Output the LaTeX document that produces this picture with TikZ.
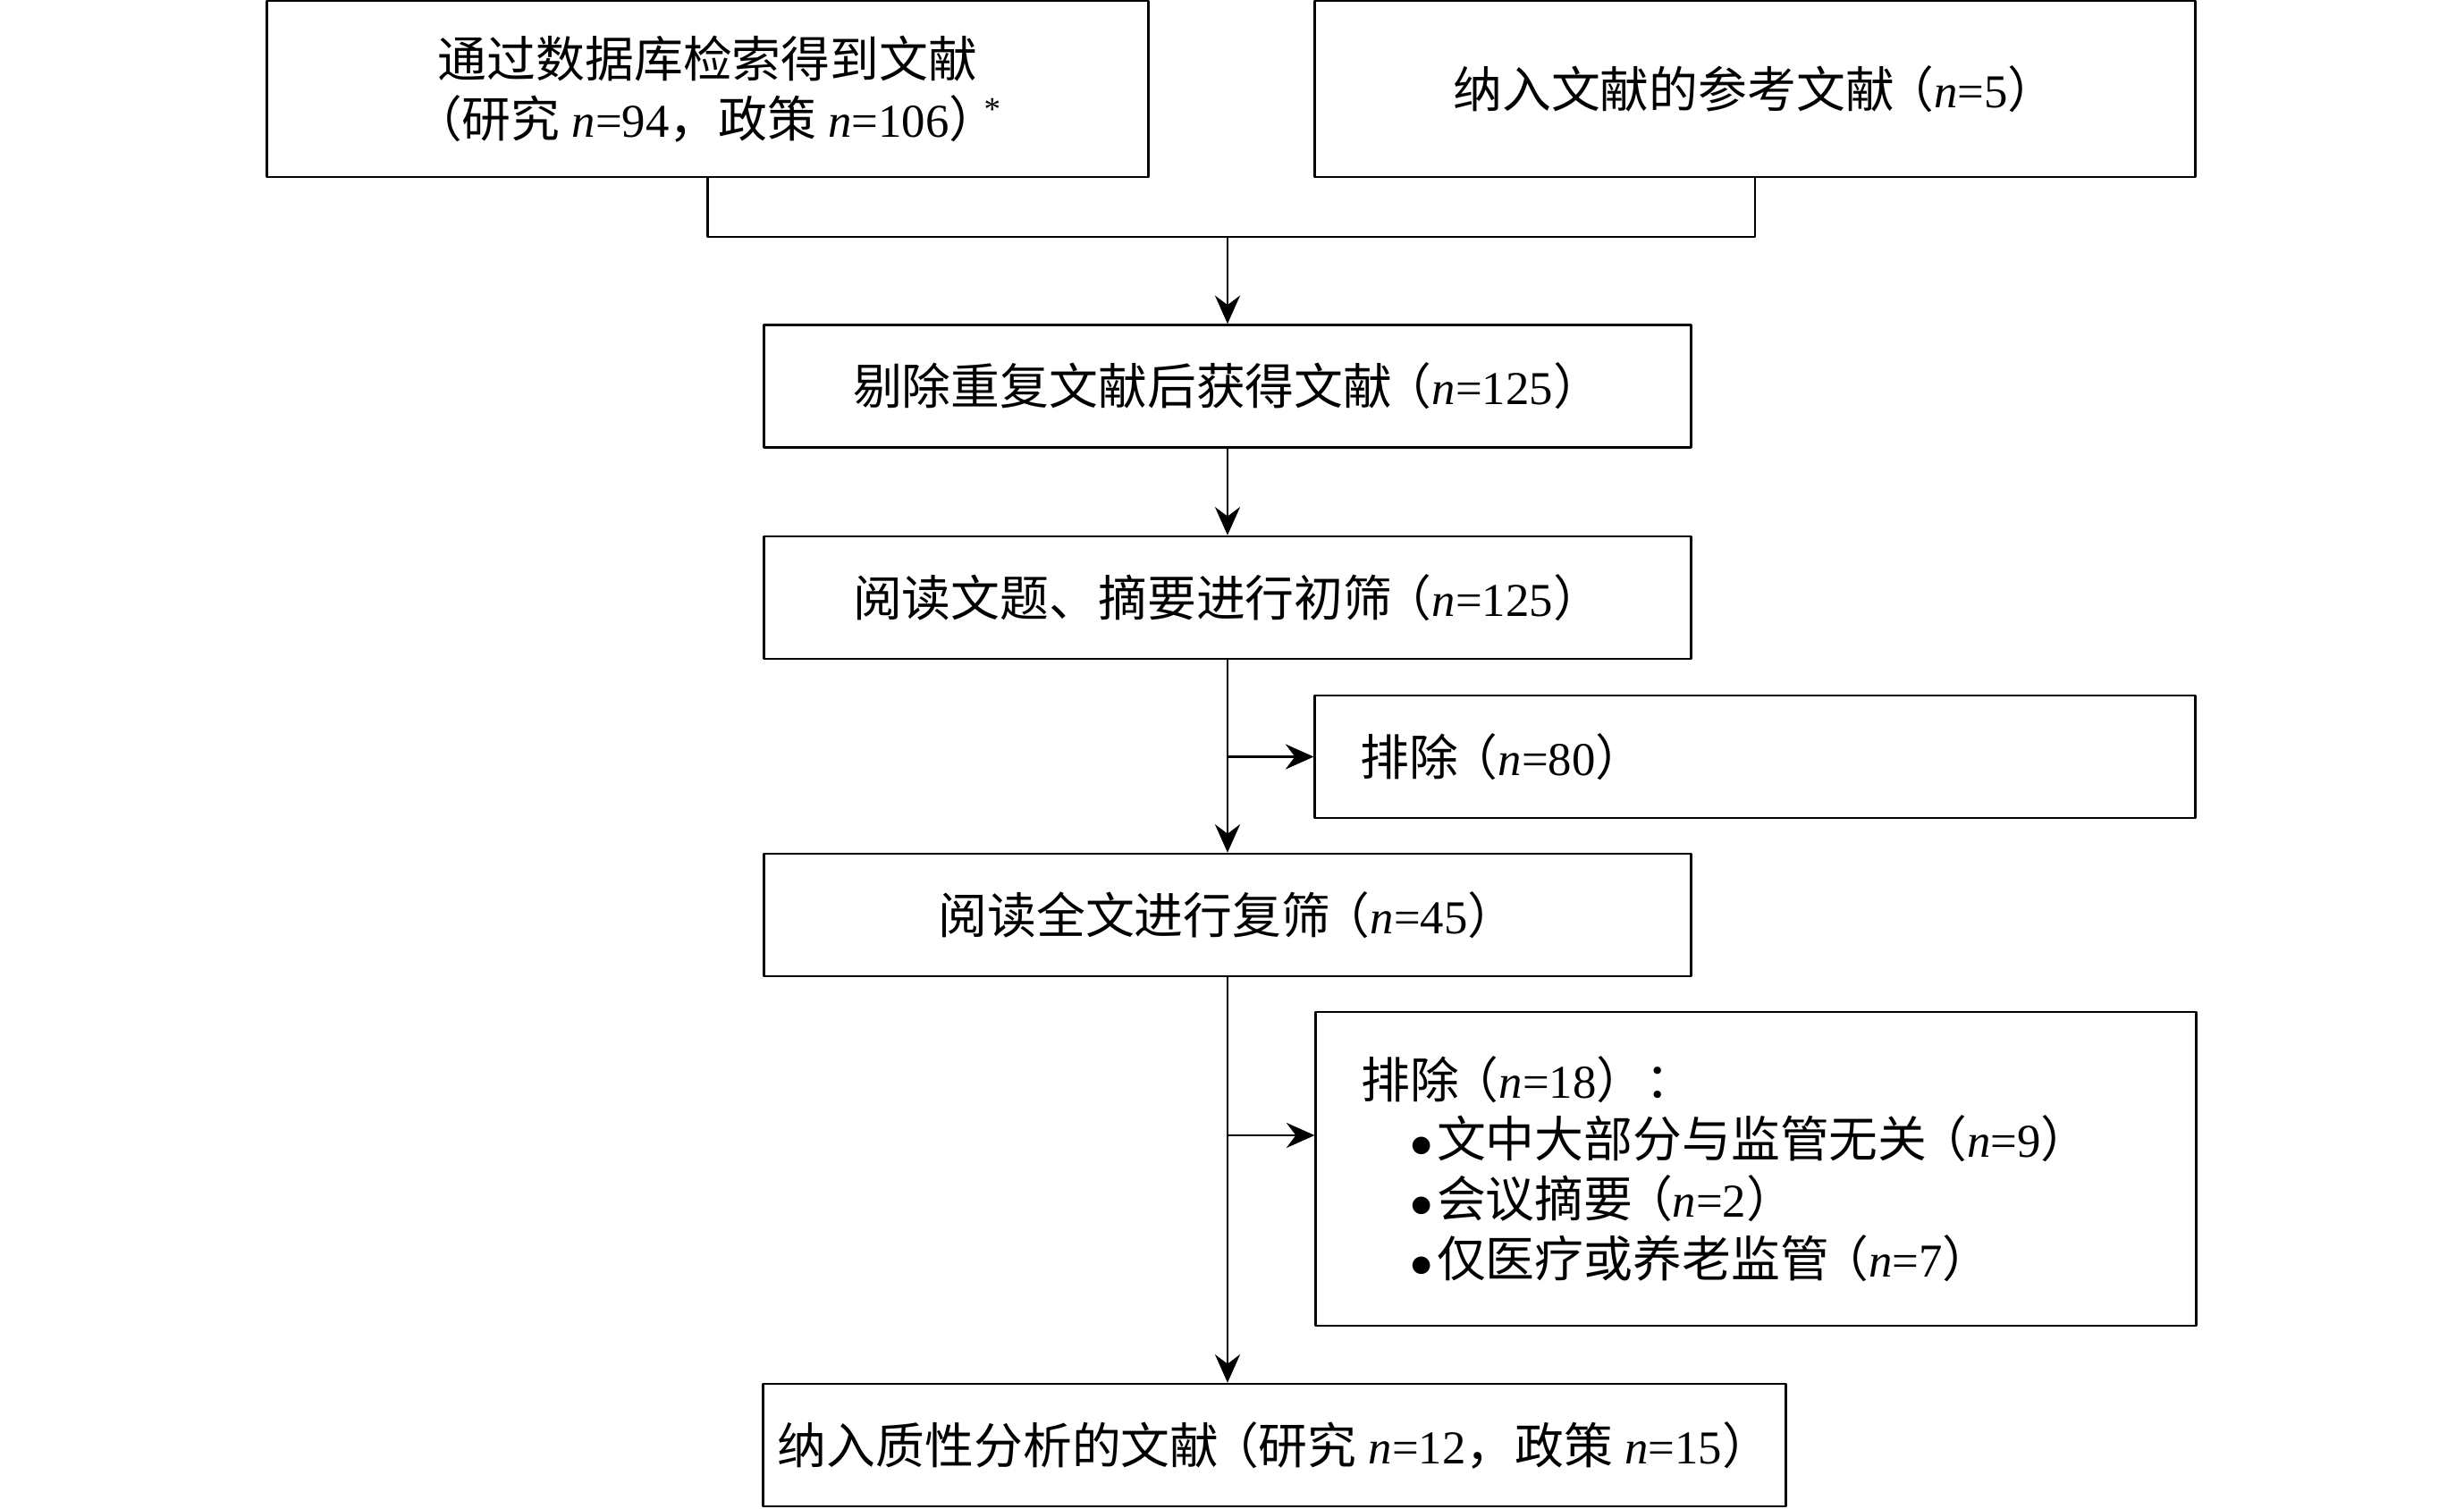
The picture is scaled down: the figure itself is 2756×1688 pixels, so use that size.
\documentclass[tikz,border=0pt]{standalone}
\usepackage{fontspec}
\setmainfont{Liberation Serif}
\newfontfamily\cjk[Scale=1.04]{Noto Sans CJK SC}
\usetikzlibrary{arrows.meta,positioning}
\newcommand{\zh}[1]{{\cjk #1}}
\newcommand{\nn}{\textit{n}}
\newcommand{\lp}{\hspace{-0.2em}\zh{（}}
\newcommand{\rp}{\zh{）}}
\newcommand{\itembul}{\hspace*{0.55cm}$\bullet$\hspace{0.04cm}}
\begin{document}
\begin{tikzpicture}[x=0.01cm,y=-0.01cm,font=\fontsize{15}{19}\selectfont,line join=round,>={Stealth[length=9pt,width=8pt,inset=3pt]},
	box/.style={draw,line width=0.7pt,minimum height=1.37cm,inner sep=0pt,align=center},
	exbox/.style={draw,line width=0.7pt,minimum width=9.84cm,text width=8.82cm,inner xsep=0.51cm,inner ysep=0pt,align=left}]
		\useasboundingbox (0,0) rectangle (2756,1688);
		\node[box,minimum width=9.85cm,minimum height=1.97cm] (search) at (791.5,99.5) {\zh{通过数据库检索得到文献}\\\zh{（研究} \nn=94\zh{，政策} \nn=106\rp\hspace{-0.3em}\textsuperscript{*}};
		\node[box,minimum width=9.84cm,minimum height=1.97cm] (refs) at (1963,99.5) {\zh{纳入文献的参考文献}\lp\nn=5\rp};
		\node[box,minimum width=10.36cm] (dedup) at (1373,432) {\zh{剔除重复文献后获得文献}\lp\nn=125\rp};
		\node[box,minimum width=10.36cm] (title) at (1373,668.5) {\zh{阅读文题、摘要进行初筛}\lp\nn=125\rp};
		\node[exbox,minimum height=1.37cm] (excl1) at (1963,846.5) {\zh{排除}\lp\nn=80\rp};
		\node[box,minimum width=10.36cm] (full) at (1373,1023.5) {\zh{阅读全文进行复筛}\lp\nn=45\rp};
		\node[exbox,minimum height=3.51cm] (excl2) at (1964,1307.5) {\zh{排除}\lp\nn=18\zh{）：}\\
			\itembul\zh{文中大部分与监管无关}\lp\nn=9\rp\\
			\itembul\zh{会议摘要}\lp\nn=2\rp\\
			\itembul\zh{仅医疗或养老监管}\lp\nn=7\rp};
		\node[box,minimum width=11.43cm] (incl) at (1425.5,1616.5) {\zh{纳入质性分析的文献}\lp\zh{研究} \nn=12\zh{，政策} \nn=15\rp};
		\coordinate (merge) at (1373,265);
		\coordinate (br1) at (title.south |- excl1.west);
		\coordinate (br2) at (1373,1270);
		\draw[line width=0.65pt] (search.south) |- (merge) -| (refs.south);
		\draw[->,line width=0.65pt] (merge) -- (dedup.north);
		\draw[->,line width=0.65pt] (dedup.south) -- (title.north);
		\draw[->,line width=0.65pt] (title.south) -- (full.north);
		\draw[->,line width=0.65pt] (br1) -- (excl1.west);
		\draw[->,line width=0.65pt] (full.south) -- (full.south |- incl.north);
		\draw[->,line width=0.65pt] (br2) -- (br2 -| excl2.west);
\end{tikzpicture}
\end{document}
